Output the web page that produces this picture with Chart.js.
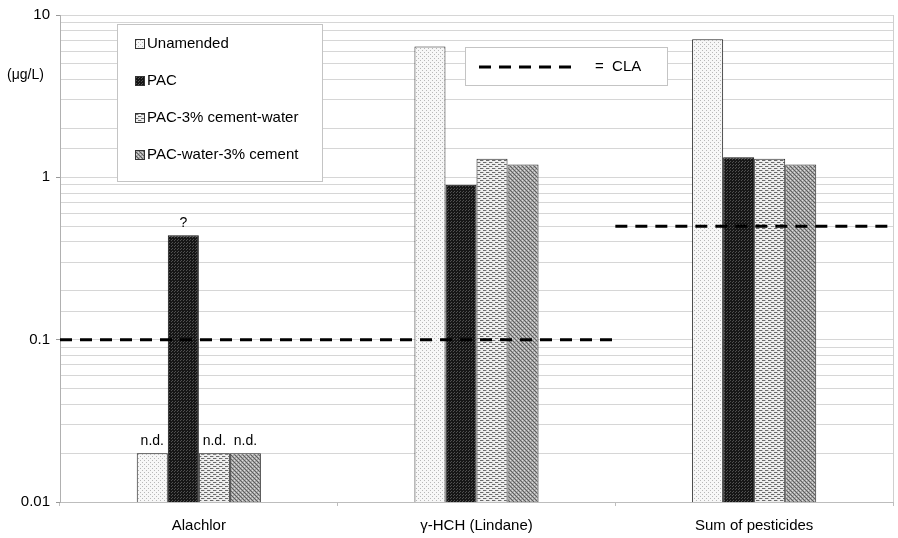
<!DOCTYPE html>
<html><head><meta charset="utf-8">
<script src="https://cdn.jsdelivr.net/npm/chart.js@4"></script>
<style>html,body{margin:0;padding:0;background:#fff}#wrap{width:898px;height:538px}</style>
</head><body><div id="wrap"><canvas id="c" width="898" height="538"></canvas></div>
<script>
const categories = ['Alachlor', '\u03B3-HCH (Lindane)', 'Sum of pesticides'];
const seriesNames = ['Unamended', 'PAC', 'PAC-3% cement-water', 'PAC-water-3% cement'];
const unamended = [0.02, 6.4, 7.1];
const pac = [0.44, 0.9, 1.33];
const pacCementWater = [0.02, 1.3, 1.3];
const pacWaterCement = [0.02, 1.2, 1.2];
const unamendedNotes = ['n.d.', '', ''];
const pacNotes = ['?', '', ''];
const pacCementWaterNotes = ['n.d.', '', ''];
const pacWaterCementNotes = ['n.d.', '', ''];
const claValues = [0.1, 0.1, 0.5];
const claLabel = '=  CLA';
const yTickValues = [0.01, 0.1, 1, 10];
const yUnit = '(\u03BCg/L)';

const FONT = '"Liberation Sans", Arial, sans-serif';

function makePattern(kind) {
  const t = document.createElement('canvas');
  const ctx = t.getContext('2d');
  if (kind === 0) {
    t.width = 4; t.height = 4;
    ctx.fillStyle = '#f7f7f7'; ctx.fillRect(0, 0, 4, 4);
    ctx.fillStyle = '#b8b8b8'; ctx.fillRect(0, 0, 1, 1); ctx.fillRect(2, 2, 1, 1);
  } else if (kind === 1) {
    t.width = 3; t.height = 3;
    ctx.fillStyle = '#161616'; ctx.fillRect(0, 0, 3, 3);
    ctx.fillStyle = '#505050'; ctx.fillRect(0, 0, 1, 1); ctx.fillRect(1, 2, 1, 1);
  } else if (kind === 2) {
    t.width = 6; t.height = 4;
    ctx.fillStyle = '#eeeeee'; ctx.fillRect(0, 0, 6, 4);
    ctx.fillStyle = '#6a6a6a'; ctx.fillRect(0, 0, 3, 1); ctx.fillRect(3, 2, 3, 1);
    ctx.fillStyle = '#bdbdbd'; ctx.fillRect(3, 0, 1, 1); ctx.fillRect(0, 2, 1, 1);
  } else {
    t.width = 4; t.height = 4;
    ctx.fillStyle = '#a6a6a6'; ctx.fillRect(0, 0, 4, 4);
    ctx.fillStyle = '#5e5e5e'; ctx.fillRect(0, 0, 1, 1); ctx.fillRect(1, 1, 1, 1); ctx.fillRect(2, 2, 1, 1); ctx.fillRect(3, 3, 1, 1);
    ctx.fillStyle = '#dcdcdc'; ctx.fillRect(2, 0, 1, 1); ctx.fillRect(0, 2, 1, 1);
  }
  return document.getElementById('c').getContext('2d').createPattern(t, 'repeat');
}
const patterns = [0, 1, 2, 3].map(makePattern);
const seriesValues = [unamended, pac, pacCementWater, pacWaterCement];
const seriesNotes = [unamendedNotes, pacNotes, pacCementWaterNotes, pacWaterCementNotes];
const borderCols = ['#222', '#111', '#222', '#333'];

// CLA segments in category-index space (each spans its categories edge to edge)
const claPoints = [];
let start = 0;
for (let i = 1; i <= claValues.length; i++) {
  if (i === claValues.length || claValues[i] !== claValues[start]) {
    if (claPoints.length) claPoints.push({x: start - 0.5, y: null});
    claPoints.push({x: start - 0.5, y: claValues[start]});
    claPoints.push({x: i - 0.5, y: claValues[start]});
    start = i;
  }
}

// line dataset first: drawn last (on top of bars)
const datasets = [{
  type: 'line', label: 'CLA', data: claPoints, parsing: false, normalized: true,
  borderColor: '#000', borderWidth: 3, borderDash: [12, 8], pointRadius: 0,
  spanGaps: false, fill: false, tension: 0
}].concat(seriesNames.map((n, i) => ({
  type: 'bar', label: n, data: seriesValues[i], notes: seriesNotes[i],
  backgroundColor: patterns[i], borderColor: borderCols[i], borderWidth: 1,
  barPercentage: 1.0, categoryPercentage: 0.447
})));

const overlay = {
  id: 'overlay',
  afterDatasetsDraw(chart) {
    const ctx = chart.ctx, a = chart.chartArea;
    ctx.save();
    ctx.strokeStyle = '#cfcfcf'; ctx.lineWidth = 1;
    ctx.beginPath(); ctx.moveTo(a.right + 0.5, a.top); ctx.lineTo(a.right + 0.5, a.bottom); ctx.stroke();
    ctx.font = '14px ' + FONT; ctx.fillStyle = '#000'; ctx.textAlign = 'center'; ctx.textBaseline = 'alphabetic';
    chart.data.datasets.forEach((ds, di) => {
      if (!ds.notes) return;
      const meta = chart.getDatasetMeta(di);
      meta.data.forEach((el, i) => { if (ds.notes[i]) ctx.fillText(ds.notes[i], el.x, el.y - 8); });
    });
    ctx.font = '14px ' + FONT; ctx.textAlign = 'left'; ctx.textBaseline = 'middle';
    ctx.fillText(yUnit, 7, 75);
    const lx = 117.5, ly = 24.5, lw = 205, lh = 157;
    ctx.fillStyle = '#fff'; ctx.fillRect(lx, ly, lw, lh);
    ctx.strokeStyle = '#c4c4c4'; ctx.strokeRect(lx, ly, lw, lh);
    ctx.font = '15px ' + FONT; ctx.textBaseline = 'middle';
    seriesNames.forEach((n, i) => {
      const yy = 44 + i * 37;
      ctx.fillStyle = patterns[i]; ctx.fillRect(135, yy - 5, 10, 10);
      ctx.strokeStyle = '#333'; ctx.strokeRect(135.5, yy - 4.5, 9, 9);
      ctx.fillStyle = '#000'; ctx.fillText(n, 147, yy);
    });
    ctx.fillStyle = '#fff'; ctx.fillRect(465.5, 47.5, 202, 38);
    ctx.strokeStyle = '#c4c4c4'; ctx.strokeRect(465.5, 47.5, 202, 38);
    ctx.strokeStyle = '#000'; ctx.lineWidth = 3; ctx.setLineDash([12, 8]);
    ctx.beginPath(); ctx.moveTo(479, 67); ctx.lineTo(579, 67); ctx.stroke();
    ctx.setLineDash([]);
    ctx.fillStyle = '#000'; ctx.font = '15px ' + FONT;
    ctx.fillText(claLabel, 595, 67);
    ctx.restore();
  }
};

const chart = new Chart(document.getElementById('c'), {
  type: 'bar',
  data: { labels: categories, datasets },
  options: {
    responsive: false, animation: false, devicePixelRatio: 1,
    layout: { padding: { top: 11, right: 5, left: 0, bottom: 0 } },
    plugins: { legend: { display: false }, tooltip: { enabled: false } },
    scales: {
      x: {
        type: 'category', offset: true, bounds: 'ticks',
        grid: { display: true, offset: true, drawOnChartArea: false, tickLength: 4, color: '#bdbdbd' },
        border: { display: true, color: '#bdbdbd' },
        ticks: { color: '#000', font: { family: FONT, size: 15 }, padding: 11, maxRotation: 0 },
        afterFit(s) { s.height = 36; }
      },
      y: {
        type: 'logarithmic', min: yTickValues[0], max: yTickValues[yTickValues.length - 1],
        grid: {
          color: '#d6d6d6', lineWidth: 1, tickLength: 4,
          tickColor: (c) => (c.tick && yTickValues.includes(c.tick.value)) ? '#999' : 'rgba(0,0,0,0)'
        },
        border: { display: true, color: '#b0b0b0' },
        ticks: {
          autoSkip: false, color: '#000', font: { family: FONT, size: 15 }, padding: 6,
          callback: (v) => yTickValues.includes(v) ? String(v) : ''
        },
        afterFit(s) { s.width = 60; }
      }
    }
  },
  plugins: [overlay]
});
</script></body></html>
